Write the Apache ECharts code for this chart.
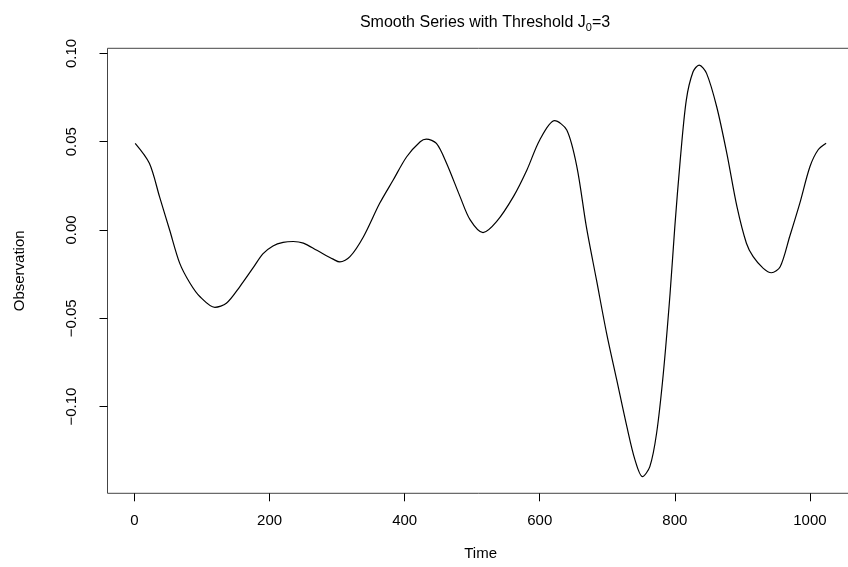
<!DOCTYPE html>
<html><head><meta charset="utf-8">
<script src="https://cdn.jsdelivr.net/npm/echarts@6/dist/echarts.min.js"></script>
<style>html,body{margin:0;padding:0;background:#fff}#c{width:848px;height:567px}</style>
</head><body><div id="c"></div>
<script>
const timePoints = [1, 22, 37, 52, 67, 82, 97, 119, 136, 156, 176, 190, 205, 220, 235, 250, 270, 294, 304, 319, 339, 363, 383, 403, 423, 432, 447, 462, 482, 497, 516, 536, 561, 581, 600, 622, 640, 655, 669, 684, 699, 714, 729, 741, 752, 763, 773, 783, 793, 800, 808, 817, 827, 836, 847, 862, 877, 892, 906, 916, 931, 943, 956, 970, 985, 1000, 1012, 1024];
const observations = [0.0491, 0.0378, 0.0189, 0.0, -0.0189, -0.030, -0.0378, -0.0438, -0.0415, -0.032, -0.0212, -0.0135, -0.0090, -0.0070, -0.0065, -0.0074, -0.0115, -0.0165, -0.0181, -0.0151, -0.0038, 0.0151, 0.0283, 0.0415, 0.050, 0.0515, 0.049, 0.0378, 0.0189, 0.0057, -0.0015, 0.0047, 0.0189, 0.034, 0.051, 0.0619, 0.0566, 0.0358, 0.0019, -0.0283, -0.0585, -0.0849, -0.1114, -0.1302, -0.1397, -0.134, -0.1151, -0.0811, -0.0358, 0.0019, 0.0396, 0.0736, 0.0896, 0.0934, 0.0887, 0.0698, 0.0434, 0.0132, -0.0075, -0.0151, -0.0217, -0.0242, -0.0208, -0.0038, 0.0151, 0.0358, 0.0453, 0.0491];
const xTicks = [0, 200, 400, 600, 800, 1000];
const yTicks = [-0.10, -0.05, 0, 0.05, 0.10];

const FONT = "'Liberation Sans', Arial, sans-serif";
const chart = echarts.init(document.getElementById('c'), null, {renderer: 'canvas'});
chart.setOption({
  animation: false,
  backgroundColor: '#fff',
  title: {
    text: 'Smooth Series with Threshold J{sub|0}=3',
    left: 480, top: 8, textAlign: 'center',
    textStyle: {
      fontFamily: FONT, fontSize: 16, fontWeight: 'normal', color: '#000', lineHeight: 20,
      rich: { sub: { fontFamily: FONT, fontSize: 11, lineHeight: 11, verticalAlign: 'bottom', color: '#000' } }
    }
  },
  grid: { left: 107.5, top: 48.3, width: 746.3, height: 445, outerBoundsMode: 'none', containLabel: false,
    show: true, borderColor: '#444', borderWidth: 1, backgroundColor: 'transparent' },
  xAxis: {
    type: 'value', min: -40, max: 1065,
    name: 'Time', nameLocation: 'middle', nameGap: 53,
    nameTextStyle: { fontFamily: FONT, fontSize: 15, color: '#000' },
    axisLine: { show: false, onZero: false },
    axisTick: { show: true, customValues: xTicks, length: 8, lineStyle: { color: '#000', width: 1 } },
    axisLabel: { customValues: xTicks, margin: 20, fontFamily: FONT, fontSize: 15, color: '#000', formatter: v => String(v) },
    splitLine: { show: false }
  },
  yAxis: {
    type: 'value', min: -0.1491, max: 0.1029,
    name: 'Observation', nameLocation: 'middle', nameGap: 80,
    nameTextStyle: { fontFamily: FONT, fontSize: 15, color: '#000' },
    axisLine: { show: false, onZero: false },
    axisTick: { show: true, customValues: yTicks, length: 8, lineStyle: { color: '#000', width: 1 } },
    axisLabel: { customValues: yTicks, rotate: 90, margin: 28, fontFamily: FONT, fontSize: 15, color: '#000',
      formatter: v => v.toFixed(2).replace('-', '\u2212') },
    splitLine: { show: false }
  },
  series: [{
    type: 'line',
    data: timePoints.map((t, i) => [t, observations[i]]),
    showSymbol: false, smooth: 0.3,
    lineStyle: { color: '#000', width: 1.2 },
    clip: true
  }]
});
</script></body></html>
